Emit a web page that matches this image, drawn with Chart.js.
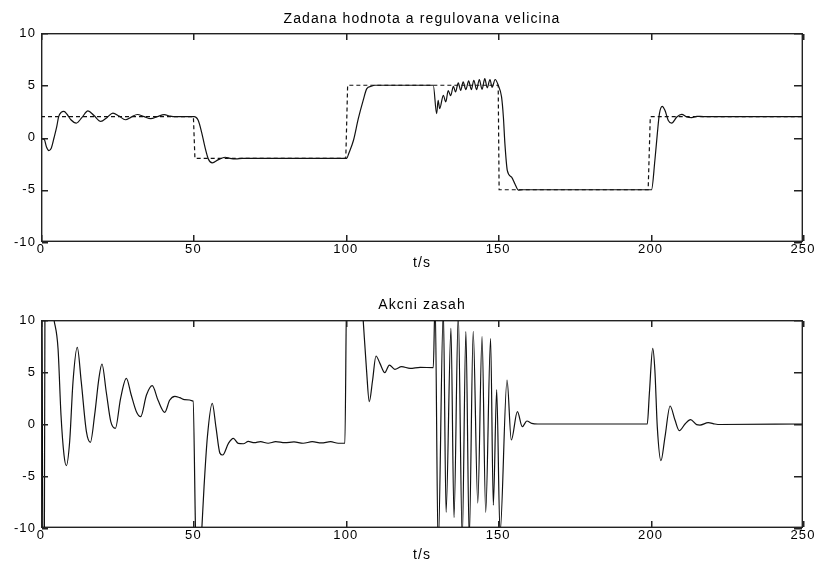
<!DOCTYPE html>
<html>
<head>
<meta charset="utf-8">
<script src="https://cdn.jsdelivr.net/npm/chart.js@4.4.0/dist/chart.umd.min.js"></script>
<style>
  body { margin: 0; background: #fff; }
  canvas { position: absolute; left: 0; }
  #top { top: 0; }
  #bottom { top: 281px; }
</style>
</head>
<body>
<canvas id="top" width="814" height="281"></canvas>
<canvas id="bottom" width="814" height="281"></canvas>
<script>
// setpoint (dashed) - Zadana hodnota
const tSet = [0, 50, 50.5, 100, 100.6, 150, 150.3, 199.2, 199.9, 250];
const setpoint = [2, 2, -2, -2, 5, 5, -5, -5, 2, 2];

// controlled variable (solid) - regulovana velicina
const tOut = [0, 0.05, 0.15, 1.1, 1.8, 2.6, 3.4, 4.3, 5.2, 5.8, 6.6, 7.5, 8.6, 9.8, 11.6, 13.4, 15.4, 17.4, 19.6, 21.6,
  23.6, 25.6, 27.7, 29.6, 31.6, 33.8, 36.0, 38.2, 40.4, 42.4, 44.0, 50.2, 51.6, 52.7, 53.8, 54.9, 56.2, 58.2, 60.4, 62.0,
  64.0, 66.0, 100.3, 101.0, 102.5, 104.1, 105.7, 106.9, 108.3, 109.5, 128.7, 129.8, 130.3, 130.8, 132.0, 132.8, 133.6, 134.4,
  135.3, 136.0, 136.9, 137.7, 138.5, 139.4, 140.3, 141.2, 142.0, 142.9, 143.8, 144.7, 145.6, 146.4, 147.3, 148.0, 149.0, 150.0,
  151.1, 151.7, 152.2, 153.0, 154.4, 155.5, 156.6, 158.0, 200.3, 201.4, 202.2, 202.9, 203.8, 204.7, 205.8, 206.9, 208.6, 210.2,
  211.9, 213.5, 215.2, 217.4, 250];
const output = [0, -3.65, -0.1, -0.2, -0.9, -1.25, -1.0, 0.0, 1.1, 2.0, 2.4, 2.5, 2.2, 1.7, 1.38, 1.9, 2.55, 2.1, 1.54, 1.9,
  2.34, 2.05, 1.7, 1.95, 2.2, 2.0, 1.8, 2.0, 2.18, 2.05, 2.0, 2.0, 1.63, 0.5, -0.93, -2.05, -2.43, -2.12, -1.89, -2.0,
  -2.05, -2.0, -2.0, -1.5, -0.29, 1.8, 3.56, 4.68, 4.9, 5.0, 5.0, 2.28, 3.56, 2.76, 4.04, 3.4, 4.5, 4.0,
  4.9, 4.36, 5.22, 4.5, 5.32, 4.58, 5.42, 4.58, 5.48, 4.58, 5.55, 4.6, 5.64, 4.75, 5.55, 4.8, 5.55, 5.0,
  3.88, 1.96, -0.6, -3.17, -3.8, -4.45, -5.03, -5.0, -5.0, -2.2, 0.35, 2.28, 2.98, 2.6, 1.63, 1.38, 1.96, 2.21,
  1.96, 1.9, 2.03, 2.0, 2.0];

// control action - Akcni zasah
const tAct = [0, 0.1, 0.3, 0.6, 1.1, 1.3, 2.5, 4.27, 5.58, 6.56, 7.55, 8.31, 9.4, 10.5, 11.9, 13.2, 14.9, 16.2, 17.6, 19.0,
  20.0, 21.4, 22.9, 24.4, 26.1, 28.0, 29.6, 31.3, 32.7, 34.6, 36.5, 38.4, 40.6, 42.2, 43.9, 45.5, 47.1, 49.9, 50.85, 52.0,
  52.6, 53.5, 54.6, 56.2, 57.4, 58.7, 59.6, 61.5, 63.1, 64.7, 66.4, 68.0, 70, 72, 74.5, 77, 80, 83, 86, 89,
  92, 95, 97.5, 99.7, 100.3, 105.0, 105.7, 106.8, 107.7, 108.8, 109.9, 111.2, 112.8, 114.3, 116.1, 118.3, 121.1, 124.4, 128.7, 129.3,
  130.3, 132.0, 132.9, 134.5, 135.5, 136.9, 138.2, 139.4, 140.5, 141.8, 143.3, 144.7, 145.9, 147.5, 148.4, 149.5, 150.6, 152.9,
  154.3, 156.3, 157.9, 159.4, 161.0, 163, 198.9, 199.6, 200.7, 201.4, 202.2, 203.4, 204.7, 206.4, 208.0, 209.4, 211.3, 213.1,
  215.1, 216.2, 218.9, 221.1, 222.8, 250];
const action = [0, -12, 12, -12, -12, 12, 13, 10.0, 7.28, 0.87, -2.98, -4.0, -1.7, 4.07, 7.37, 4.07, -0.74, -1.76, 0.87, 4.39,
  5.77, 3.1, 0.22, -0.42, 2.45, 4.39, 2.79, 1.18, 0.71, 2.79, 3.69, 2.28, 1.12, 2.28, 2.66, 2.53, 2.34, 2.2, -12, -14,
  -11, -6.0, -1.2, 1.99, -0.3, -2.8, -2.98, -1.86, -1.38, -1.86, -1.9, -1.68, -1.8, -1.7, -1.85, -1.7, -1.8, -1.72, -1.85, -1.7,
  -1.82, -1.7, -1.85, -1.85, 13, 13, 10, 5.2, 2.15, 4.23, 6.54, 5.83, 4.94, 5.67, 5.26, 5.51, 5.35, 5.45, 5.42, 12,
  -12, 11, -8.5, 9.2, -9.0, 10.5, -11, 8.9, -11, 8.9, -7.6, 8.4, -8.5, 8.2, -7.8, 3.3, -10.5, 4.23,
  -1.54, 1.19, -0.26, 0.29, 0.06, 0, 0, 2.95, 7.28, 5.2, -0.3, -3.53, -1.28, 1.73, 0.38, -0.64, 0, 0.42,
  -0.06, -0.1, 0.13, 0, -0.05, 0];

const xTicks = [0, 50, 100, 150, 200, 250];
const yTicks = [-10, -5, 0, 5, 10];

const FONT = 'Liberation Sans, Arial, sans-serif';

function pts(xs, ys) {
  return xs.map((x, i) => ({ x: x, y: ys[i] }));
}

// box around the axes with inner tick marks, matlab style
const frame = {
  id: 'frame',
  afterLayout(chart) {
    // center the title over the axes, not the whole canvas
    const tb = chart.titleBlock, a = chart.chartArea;
    if (tb) { tb.left = a.left; tb.right = a.right; tb.width = a.right - a.left; }
  },
  beforeDraw(chart) {
    chart.ctx.letterSpacing = '1.1px';
  },
  afterDraw(chart) {
    const ctx = chart.ctx;
    const a = chart.chartArea;
    const x = chart.scales.x, y = chart.scales.y;
    const L = Math.round(a.left), R = Math.round(a.right) - 1;
    const T = Math.round(a.top), B = Math.round(a.bottom) - 1;
    ctx.save();
    // soft edge first, then the dark 1px line
    ctx.fillStyle = 'rgba(0,0,0,0.35)';
    ctx.fillRect(L, T + 1, R - L + 1, 1);
    ctx.fillRect(L, B - 1, R - L + 1, 1);
    ctx.fillRect(L + 1, T, 1, B - T + 1);
    ctx.fillRect(R - 1, T, 1, B - T + 1);
    ctx.fillStyle = '#222';
    ctx.fillRect(L, T, R - L + 1, 1);
    ctx.fillRect(L, B, R - L + 1, 1);
    ctx.fillRect(L, T, 1, B - T + 1);
    ctx.fillRect(R, T, 1, B - T + 1);
    xTicks.forEach(v => {
      const px = Math.round(x.getPixelForValue(v));
      ctx.fillRect(px, B - 6, 1.5, 6);
      ctx.fillRect(px, T + 1, 1.5, 6);
    });
    yTicks.forEach(v => {
      const py = Math.round(y.getPixelForValue(v));
      ctx.fillRect(L + 1, py, 6, 1.5);
      ctx.fillRect(R - 8, py, 8, 1.5);
    });
    ctx.restore();
  }
};

function makeChart(id, title, titlePad, xHeight, xTitlePad, datasets) {
  return new Chart(document.getElementById(id), {
    type: 'line',
    data: { datasets: datasets },
    plugins: [frame],
    options: {
      responsive: false,
      animation: false,
      devicePixelRatio: 1,
      layout: { padding: { left: 0, right: 11, top: 0, bottom: 0 } },
      elements: { point: { radius: 0 }, line: { cubicInterpolationMode: 'monotone', borderWidth: 1 } },
      plugins: {
        legend: { display: false },
        tooltip: { enabled: false },
        title: {
          display: true, text: title, color: '#000',
          font: { family: FONT, size: 14, weight: 'normal' },
          padding: titlePad
        }
      },
      scales: {
        x: {
          type: 'linear', min: 0, max: 250,
          afterBuildTicks: s => { s.ticks = xTicks.map(v => ({ value: v })); },
          ticks: { color: '#000', font: { family: FONT, size: 13 }, padding: 0, maxRotation: 0, autoSkip: false },
          grid: { display: false, drawTicks: false },
          border: { display: false },
          title: { display: true, text: 't/s', color: '#000', font: { family: FONT, size: 14 }, padding: { top: 0, bottom: xTitlePad } },
          afterFit: s => { s.height = xHeight; s.paddingLeft = 0; s.paddingRight = 0; }
        },
        y: {
          type: 'linear', min: -10, max: 10,
          afterBuildTicks: s => { s.ticks = yTicks.map(v => ({ value: v })); },
          ticks: { color: '#000', font: { family: FONT, size: 13 }, padding: 5 },
          grid: { display: false, drawTicks: false },
          border: { display: false },
          afterFit: s => { s.width = 41; s.paddingTop = 0; s.paddingBottom = 0; }
        }
      }
    }
  });
}

makeChart('top', 'Zadana hodnota a regulovana velicina', { top: 10.6, bottom: 5.6 }, 39, 9.6, [
  { data: pts(tOut, output), borderColor: '#111', borderWidth: 1.2 },
  { data: pts(tSet, setpoint), borderColor: '#111', borderWidth: 1.2, borderDash: [4, 3], cubicInterpolationMode: 'default', tension: 0 }
]);

makeChart('bottom', 'Akcni zasah', { top: 15.6, bottom: 6.6 }, 34, -2, [
  { data: pts(tAct, action), borderColor: '#111', borderWidth: 1.2 }
]);
</script>
</body>
</html>
